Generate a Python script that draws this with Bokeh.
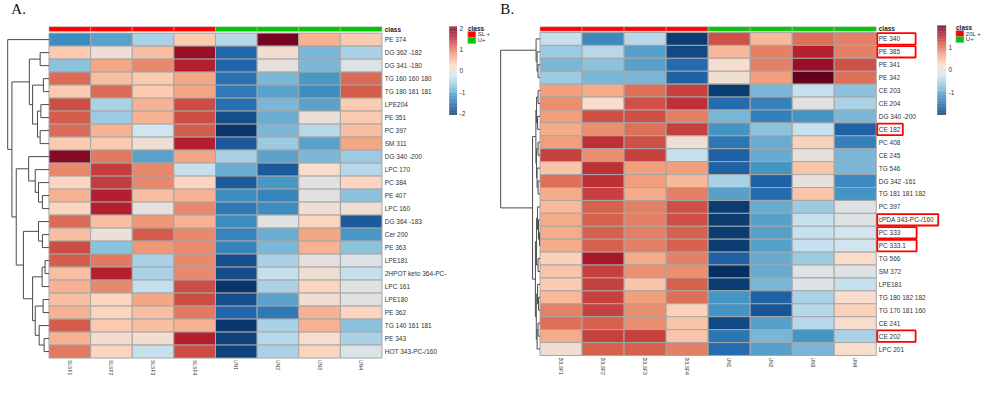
import numpy as np
from bokeh.plotting import figure
from bokeh.models import Range1d
from bokeh.core.properties import value
from bokeh.embed import file_html
from bokeh.resources import INLINE

# ---------------- data: panel A ----------------
a_rows = ["PE 374", "DG 362 -182", "DG 341 -180", "TG 160 160 180", "TG 180 181 181",
          "LPE204", "PE 351", "PC 397", "SM 311", "DG 340 -200", "LPC 170", "PC 384",
          "PE 407", "LPC 160", "DG 364 -183", "Cer 200", "PE 363", "LPE181",
          "2HPOT keto 364-PC-", "LPC 161", "LPE180", "PE 362", "TG 140 161 181",
          "PE 343", "HOT 343-PC-/160"]
a_cols = ["SLSF1", "SLSF2", "SLSF3", "SLSF4", "UN1", "UN2", "UN3", "UN4"]
a_class = ["SL +", "SL +", "SL +", "SL +", "U+", "U+", "U+", "U+"]
a_slsf1 = [-1.2, 0.4, -0.7, 1.1, 0.4, 1.3, 1.2, 1.1, 0.4, 1.9, 0.9, 0.3, 0.6, 0.3, 1.1, 0.5, 1.3, 1.2, 0.5, 0.6, 0.5, 0.6, 1.2, 0.6, 1.0]
a_slsf2 = [-1.0, 0.1, 0.7, 0.5, 1.1, -0.5, -0.6, 0.6, 0.4, 1.0, 1.4, 1.4, 1.6, 1.6, 0.5, 0.05, -0.7, 1.0, 1.6, 0.9, 0.3, 0.3, 0.4, 0.15, 0.3]
a_slsf3 = [-0.5, 0.5, 0.9, 0.4, 0.4, 0.6, 0.6, -0.2, 0.1, -1.0, 0.9, 0.9, 0.5, 0.0, 0.8, 1.2, 0.8, -0.5, -0.5, -0.3, 0.7, 0.5, 0.5, 0.15, -0.3]
a_slsf4 = [0.4, 1.8, 1.6, 0.7, 0.7, 1.3, 1.3, 1.2, 1.6, 0.7, -0.3, 0.3, 0.6, 0.9, 0.6, 0.9, 0.9, 0.9, 0.9, 1.3, 1.3, 1.0, 0.6, 1.6, 1.3]
a_un1 = [-0.4, -1.6, -1.6, -1.5, -1.4, -1.5, -1.8, -2.0, -1.7, -0.5, -0.9, -1.7, -1.2, -1.4, -1.2, -1.3, -1.3, -1.8, -1.8, -2.0, -1.8, -1.6, -2.0, -1.9, -1.9]
a_un2 = [2.0, 0.15, 0.0, -0.8, -1.0, -0.8, -0.9, -0.8, -0.6, -1.0, -1.7, -1.1, -1.3, -1.2, -0.05, -0.9, -0.8, -0.5, -0.3, -0.5, -1.0, -1.4, -0.5, -0.4, -0.5]
a_un3 = [0.6, -0.8, -0.8, -1.1, -1.2, -1.0, 0.05, -0.4, -1.0, -0.8, 0.2, -0.05, -0.05, 0.1, 0.3, 0.7, 0.6, 0.0, 0.1, 0.3, 0.1, 0.6, 0.6, 0.2, 0.3]
a_un4 = [0.4, -0.5, -0.1, 1.1, 1.2, 0.4, 0.4, 0.5, 0.7, -0.6, -0.4, 0.3, -0.7, 0.1, -1.7, -1.1, -0.7, -0.1, -0.3, -0.05, -0.05, 0.3, -0.7, -0.5, -0.1]
# row dendrogram A: [merge height, left, right]; ints are row indices
a_tree = [42, 0, [37.7, [20, [9, 1, 2], [16.7, [5.7, 3, 4], [11.7, [8.3, 5, 6], [9, 7, 8]]]],
                 [33.3, [20.7, 9, [14, 10, [10.7, 11, [6.7, 12, 13]]]],
                        [26, [10.7, 14, [6.7, 15, 16]],
                             [16.7, [7, [4, 17, 18], 19], [14, [6, 20, 21], [10, 22, [5, 23, 24]]]]]]]]
a_legend_ticks = [2, 1, 0, -1, -2]

# ---------------- data: panel B ----------------
b_rows = ["PE 340", "PE 385", "PE 341", "PE 342", "CE 203", "CE 204", "DG 340 -200",
          "CE 182", "PC 408", "CE 245", "TG 546", "DG 342 -161", "TG 181 181 182",
          "PC 397", "cPDA 343-PC-/160", "PC 333", "PC 333.1", "TG 566", "SM 372",
          "LPE181", "TG 180 182 182", "TG 170 181 160", "CE 241", "CE 202", "LPC 201"]
b_cols = ["20LSF1", "20LSF2", "20LSF3", "20LSF4", "UN1", "UN2", "UN3", "UN4"]
b_class = ["20L +", "20L +", "20L +", "20L +", "U+", "U+", "U+", "U+"]
b_lsf1 = [-0.3, -0.6, -0.8, -0.6, 0.7, 0.8, 0.7, 0.6, 0.7, 1.3, 0.4, 1.0, 0.6, 0.5, 0.6, 0.6, 0.6, 0.3, 0.4, 0.35, 0.5, 0.9, 1.0, 0.6, 0.1]
b_lsf2 = [-1.2, -0.4, -0.7, -0.8, 0.6, 0.15, 1.2, 0.8, 1.4, 0.8, 1.4, 1.4, 1.3, 1.1, 1.1, 1.1, 1.1, 1.6, 1.3, 1.3, 1.3, 1.3, 1.1, 1.3, 1.1]
b_lsf3 = [-0.4, -1.0, -1.0, -0.8, 1.0, 1.2, 1.2, 1.0, 1.2, 1.3, 0.7, 0.7, 0.6, 0.9, 0.9, 0.9, 0.9, 0.6, 0.8, 0.4, 0.7, 0.8, 0.8, 1.3, 1.1]
b_lsf4 = [-1.9, -1.8, -1.5, -1.6, 1.3, 1.4, 0.9, 1.3, 0.1, -0.3, 0.7, 0.5, 0.9, 1.2, 1.2, 1.1, 1.1, 0.9, 0.8, 1.1, 1.0, 0.3, 0.4, 0.4, 0.9]
b_un1 = [1.2, 0.5, 0.15, 0.1, -1.9, -1.5, -0.8, -1.1, -1.4, -1.6, -1.6, -0.5, -1.0, -1.9, -1.9, -1.9, -1.9, -1.6, -2.0, -1.9, -1.1, -1.1, -1.8, -1.4, -1.5]
b_un2 = [0.5, 0.9, 0.9, 0.7, -0.8, -1.3, -1.3, -0.7, -0.9, -0.9, -1.1, -1.6, -1.5, -0.9, -1.0, -1.0, -1.0, -0.9, -0.9, -0.8, -1.6, -1.7, -1.0, -0.8, -1.0]
b_un3 = [1.0, 1.5, 1.7, 2.0, -0.3, -0.05, -1.1, -0.3, 0.3, 0.0, 0.4, 0.0, 0.4, -0.6, -0.3, -0.3, -0.3, -0.6, -0.1, -0.1, -0.5, -0.4, -0.4, -1.1, -0.8]
b_un4 = [0.9, 0.9, 1.2, 1.0, -0.7, -0.5, -0.8, -1.6, -1.3, -0.8, -0.8, -1.2, -1.1, -0.1, -0.1, -0.2, -0.2, 0.2, -0.1, -0.3, 0.15, 0.3, 0.15, -0.5, 0.15]
b_tree = [40, [4, 0, [3, 1, [2, 2, 3]]],
              [7.6, [4.2, [3.5, [2, 4, 5], [2.5, 6, 7]], [3.5, [2, 8, 9], [3, 10, [2, 11, 12]]]],
                    [4.7, [3.5, [2.5, 13, [1.5, 14, [0.5, 15, 16]]], [2, 17, 18]],
                          [3.8, [2.5, 19, [1.5, 20, 21]], [3, [2, 22, 23], 24]]]]]
b_legend_ticks = [1, 0, -1]
b_boxed = ["PE 340", "PE 385", "CE 182", "cPDA 343-PC-/160", "PC 333", "PC 333.1", "CE 202"]

# ---------------- styles ----------------
PAL = ["#053061", "#2166AC", "#4393C3", "#92C5DE", "#D1E5F0",
       "#FDDBC7", "#F4A582", "#D6604D", "#B2182B", "#67001F"]
CLASS_COL = {"SL +": "#FF0000", "20L +": "#FF0000", "U+": "#00C800"}
FONT = value("Liberation Sans")
TXT = "#333333"
BOX_W = {"PE 340": 39, "PE 385": 39, "CE 182": 26, "cPDA 343-PC-/160": 62,
         "PC 333": 40, "PC 333.1": 40, "CE 202": 39}


def hex2rgb(h):
    return tuple(int(h[i:i + 2], 16) for i in (1, 3, 5))


PAL_RGB = [hex2rgb(c) for c in PAL]


def cmap(v, lo, hi):
    t = min(max((v - lo) / (hi - lo), 0.0), 1.0)
    pos = t * (len(PAL_RGB) - 1)
    i = min(int(np.floor(pos)), len(PAL_RGB) - 2)
    f = pos - i
    c0, c1 = PAL_RGB[i], PAL_RGB[i + 1]
    r, g, b = (int(round(c0[k] + (c1[k] - c0[k]) * f)) for k in range(3))
    return "#%02x%02x%02x" % (r, g, b)


p = figure(width=984, height=378, x_range=Range1d(0, 1000), y_range=Range1d(394, 0),
           output_backend="svg", toolbar_location=None, min_border=0)
p.axis.visible = False
p.grid.visible = False
p.outline_line_color = None
p.background_fill_color = "white"


def draw_panel(rows, cols, classes, columns, tree, g):
    n, m = len(rows), len(cols)
    lo, hi = g["lo"], g["hi"]
    cw = (g["right"] - g["left"]) / m
    rh = (g["bottom"] - g["top"]) / n
    # heatmap
    L, R, T, B, C = [], [], [], [], []
    for j, colvals in enumerate(columns):
        for i, v in enumerate(colvals):
            L.append(g["left"] + j * cw); R.append(g["left"] + (j + 1) * cw)
            T.append(g["top"] + i * rh); B.append(g["top"] + (i + 1) * rh)
            C.append(cmap(v, lo, hi))
    p.quad(left=L, right=R, top=T, bottom=B, fill_color=C, line_color="#A6A6A6", line_width=1)
    # class bar
    p.quad(left=[g["left"] + j * cw for j in range(m)], right=[g["left"] + (j + 1) * cw for j in range(m)],
           top=[g["ctop"]] * m, bottom=[g["cbot"]] * m,
           fill_color=[CLASS_COL[c] for c in classes], line_color="#BDBDBD", line_width=0.5)
    p.text(x=[g["lab_x"]], y=[(g["ctop"] + g["cbot"]) / 2], text=["class"], text_font=FONT,
           text_font_size="6.5px", text_font_style="bold", text_baseline="middle", text_color="#222222")
    # row labels
    yc = [g["top"] + (i + 0.5) * rh for i in range(n)]
    p.text(x=[g["lab_x"]] * n, y=yc, text=rows, text_font=FONT, text_font_size="6.5px",
           text_baseline="middle", text_align="left", text_color=TXT)
    # column labels (rotated)
    p.text(x=[g["left"] + (j + 0.5) * cw for j in range(m)], y=[g["bottom"] + 2] * m, text=cols,
           angle=-np.pi / 2, text_font=FONT, text_font_size="5px", text_baseline="middle",
           text_align="left", text_color=TXT)
    # dendrogram
    x0, y0, x1, y1 = [], [], [], []
    left = g["left"]

    def walk(node):
        if isinstance(node, int):
            return yc[node], 0.0
        h, a, b = node
        ya, ha = walk(a)
        yb, hb = walk(b)
        x0.extend([left - ha, left - hb, left - h]); x1.extend([left - h, left - h, left - h])
        y0.extend([ya, yb, ya]); y1.extend([ya, yb, yb])
        return (ya + yb) / 2, h

    walk(tree)
    p.segment(x0=x0, y0=y0, x1=x1, y1=y1, line_color="#4a4a4a", line_width=1)
    # colour key
    nn = 120
    edges = np.linspace(g["cb_bot"], g["cb_top"], nn + 1)
    vals = np.linspace(lo, hi, nn)
    p.quad(left=[g["cb_x0"]] * nn, right=[g["cb_x1"]] * nn, bottom=list(edges[:-1]), top=list(edges[1:]),
           fill_color=[cmap(v, lo, hi) for v in vals], line_color=None)
    ticks = g["ticks"]
    ty = [g["cb_bot"] + (t - lo) / (hi - lo) * (g["cb_top"] - g["cb_bot"]) for t in ticks]
    p.text(x=[g["cb_x1"] + 2.5] * len(ticks), y=ty, text=[str(t) for t in ticks], text_font=FONT,
           text_font_size="6.5px", text_baseline="middle", text_color=TXT)
    # class legend
    lx = g["leg_x"]
    uniq = []
    for c in classes:
        if c not in uniq:
            uniq.append(c)
    p.text(x=[lx], y=[g["leg_y"]], text=["class"], text_font=FONT, text_font_size="6.5px",
           text_font_style="bold", text_baseline="middle", text_color="#222222")
    p.quad(left=[lx] * len(uniq), right=[lx + 8] * len(uniq),
           top=[g["leg_y"] + 3.3 + k * 6.2 for k in range(len(uniq))],
           bottom=[g["leg_y"] + 9.5 + k * 6.2 for k in range(len(uniq))],
           fill_color=[CLASS_COL[c] for c in uniq], line_color="#9a9a9a", line_width=0.6)
    p.text(x=[lx + 10] * len(uniq), y=[g["leg_y"] + 6.4 + k * 6.2 for k in range(len(uniq))], text=uniq,
           text_font=FONT, text_font_size="6px", text_baseline="middle", text_color=TXT)
    # panel letter
    p.text(x=[g["letter_x"]], y=[g["letter_y"]], text=[g["letter"]], text_font=value("Liberation Serif"),
           text_font_size="15px", text_baseline="middle", text_color="#111111")
    return yc, rh


geomA = dict(left=49.3, right=387.7, top=34.0, bottom=372.7, ctop=27.3, cbot=32.3, lab_x=390.5,
             lo=-2.06, hi=2.1, cb_x0=456, cb_x1=464, cb_top=27, cb_bot=119, ticks=a_legend_ticks,
             leg_x=475, leg_y=29, letter="A.", letter_x=11, letter_y=9)
geomB = dict(left=548.3, right=890.0, top=33.3, bottom=370.0, ctop=27.3, cbot=32.0, lab_x=892.5,
             lo=-2.0, hi=1.99, cb_x0=952, cb_x1=961, cb_top=26, cb_bot=119, ticks=b_legend_ticks,
             leg_x=971, leg_y=28, letter="B.", letter_x=508, letter_y=9)

draw_panel(a_rows, a_cols, a_class, [a_slsf1, a_slsf2, a_slsf3, a_slsf4, a_un1, a_un2, a_un3, a_un4],
           a_tree, geomA)
ycB, rhB = draw_panel(b_rows, b_cols, b_class, [b_lsf1, b_lsf2, b_lsf3, b_lsf4, b_un1, b_un2, b_un3, b_un4],
                      b_tree, geomB)

# red highlight boxes around selected labels in panel B
bi = [b_rows.index(r) for r in b_boxed]
p.quad(left=[geomB["lab_x"] - 1.5] * len(bi), right=[geomB["lab_x"] - 1.5 + BOX_W[b_rows[i]] for i in bi],
       top=[ycB[i] - rhB / 2 + 0.8 for i in bi], bottom=[ycB[i] + rhB / 2 - 0.8 for i in bi],
       fill_alpha=0, line_color="#FF0000", line_width=1.8)

open("out.html", "w").write(file_html(p, INLINE))
